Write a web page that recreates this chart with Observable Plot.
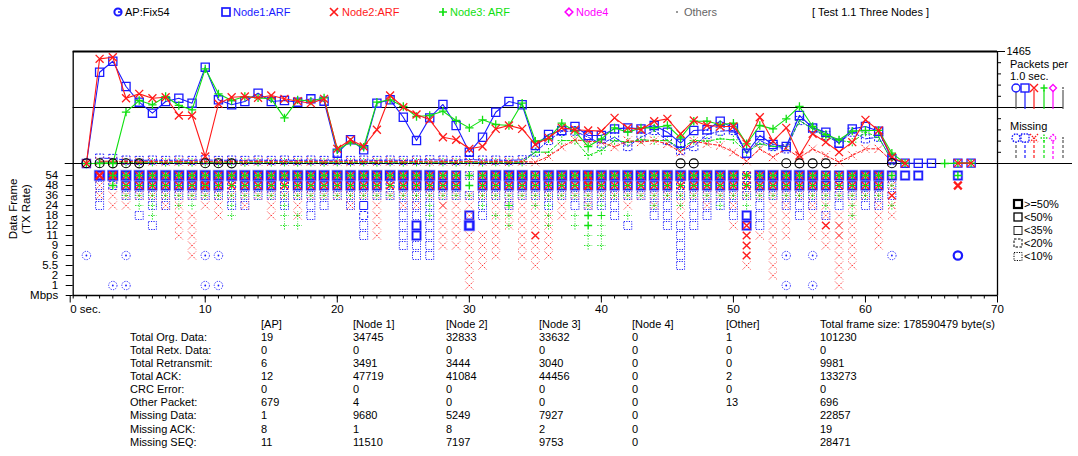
<!DOCTYPE html>
<html><head><meta charset="utf-8">
<script src="https://cdn.jsdelivr.net/npm/d3@7"></script>
<script src="https://cdn.jsdelivr.net/npm/@observablehq/plot@0.6"></script>
<style>
html,body{margin:0;padding:0;background:#fff;}
#root{position:relative;width:1078px;height:456px;overflow:hidden;font-family:"Liberation Sans",Arial,Helvetica,sans-serif;font-size:11px;color:#000;}
.t{position:absolute;white-space:nowrap;line-height:13px;font-size:11px;}
</style></head><body><div id="root"></div>
<script>
// ---------------- DATA ----------------
// packets per 1.0 sec, seconds 1..68 (null = no point)
const node1Packets = [0,1194,1338,1007,802,658,811,854,789,1260, 833,768,811,920,811,824,802,846,815,135, 310,179,789,833,605,300,597,772,497,148, 344,671,811,768,235,379,432,484,366,366, 453,466,453,497,410,266,432,441,553,466, 135,366,248,222,628,466,410,266,453,484, 423,61,4,3,3,null,5,5];
const node2Packets = [0,1369,1390,854,911,854,867,628,628,92, 781,867,876,859,889,846,815,789,846,192, 310,222,441,889,737,641,571,344,310,192, 222,453,497,453,248,336,466,441,432,423, 597,466,441,553,584,388,563,497,484,484, 258,605,292,466,105,388,279,148,279,571, 432,83,4,null,null,null,5,5];
const node3Packets = [0,0,0,671,824,768,876,759,702,1238, 911,824,876,859,846,597,833,815,859,179, 279,213,802,833,746,615,628,684,563,466, 571,510,497,789,292,323,527,423,222,323, 466,410,466,466,497,336,553,553,510,527, 258,497,453,584,746,484,379,310,423,432, 432,135,4,null,null,0,5,5];
// missing per 1.0 sec, seconds 1..68
const node1Missing = [null,70,66, 44,40,44,40,44,40,48,40, 44,40,44,40,44,40,44,40,44,40, 44,40,44,40,44,48,44,40,52,44, 44,40,48, 148,301,420,423,344,257,344,222,344,432, 301,170,222,379,423,432,126,301,222,192, 562,453,366,266,410,323,344,39, null,null,null,null,null,null];
const node2Missing = [null,30,30, 26,22,26,22,26,22,26,22, 26,22,26,22,26,22,26,22,26,22, 26,22,26,22,26,22,26,22,26,22, 26,22,26, 17,92,214,310,290,280,214,300,280,300, 257,148,292,260,235,148,30,192,83,200, 74,192,105,17,105,192,192,30, null,null,null,null,null,null];
const node3Missing = [null,17,17, 17,14,17,14,17,14,17,14, 17,14,17,14,17,14,17,14,17,14, 17,14,17,14,17,14,17,14,17,14, 17,14,17, 148,148,300,300,105,170,300,280,310,300, 300,200,301,292,322,310,148,257,222,222, 562,453,344,301,279,410,344,39, null,null,null,null,null,null];
const apSeconds = [1,2,3,4,5,10,11,12,46,47,54,55,56,57,62];
const apPackets = [3,3,2,3,2,3,3,2,2,2,3,2,2,2,3];

const upperTop = 1465;
const upperTicks = [0,146.5,293,439.5,586,732.5,879,1025.5,1172,1318.5,1465];
const midValue = 732.5;

// TX rate rows; each string = seconds 0..68 in chunks of 10
// 5: >=50%, 4: <50%, 3: <35%, 2: <20%, 1: <10%, "." none, "-" empty chunk
const rates = ["54","48","36","24","18","12","11","9","6","5.5","2","1"];
const rateAxis = [...rates, "Mbps"];
const node1Rows = [
 "..55555555 5555555555 5555555544 1455545555 5555555555 5255555445 55444..4.",
 "..12444444 4424442444 4444244444 .444444444 4444442444 4244444434 441......",
 "..1.111111 1111111111 1111111111 1111111111 1111111111 1111111111 111......",
 "..1...11.. ..11..1.11 .13..111.. .1.1..1.11 11..11.111 1.1.111.1. 11.......",
 ".....1.... ........1. ..2..111.. 41........ .1..11.11. 141..1.1.. -",
 "......1... - ..1..141.. 5......... ..1..111.. .41....... -",
 "- - ..1..141.. - ......1... - -",
 "- - .....111.. - ......1... - -",
 "- - ......11.. - ......1... - -",
 "- - - - ......1... - -",
 "-",
 "-"
];
const node2Rows = [
 "..55444444 4444444444 4444444444 1444444445 4444444444 4444444444 441......",
 "..11444444 5444444444 4444444444 .444444445 4444444444 4444444444 442....5.",
 "..11111111 1111111111 1111111111 1111111111 1111111111 1111111111 114......",
 "...11..11. 11.1.1.1.. .1.1.11.31 1.1111.1.1 ..1.1.1.1. 1..11.11.1 .12......",
 "........11 .1...1.1.. ...1....11 1.111111.. ......1... ...11.1111 .11......",
 "........11 - ...1....11 ..11111... - 14.11.1431 .1.......",
 "........11 - ...1....11 111.141... - .4111.1131 .1.......",
 ".........1 - ........11 111.111... - .4.1...111 .1.......",
 ".........1 - - 111.111... - .4.1....11 -",
 "- - - 11...1.... - .1.1....11 -",
 "- - - 1......... - ...1....1. -",
 "- - - 1......... - ........1. -"
];
const node3Rows = [
 "...4444444 4444444444 4444444444 4444444444 4444444444 4444444444 444....4.",
 "...4333333 3333333333 3333333333 4333333333 3333333333 3333333333 331......",
 "....111111 1111111111 1111111111 1111111111 1111111111 1111111111 11.......",
 ".....11.11 ..1...1... .......1.. .1.3.11..1 1...1.1..1 .1.....1.1 ..1......",
 "......1... ..1...11.. .......1.. ..11..1.14 3.1....... .........1 -",
 "- ......11.. - ...1..1.14 1......... - -",
 "- - - .........1 1......... - -",
 "- - - .........1 1......... - -",
 "-","-","-","-"
];
const apRows = [
 "-","-","-","-","-","-","-","-",
 ".1..1..... 11........ - - - ....1.1... ..1....5.",
 "-","-",
 "...11..... 11........ - - - ....1.1... -"
];
const secondTicks = d3.range(0, 71);
const tickLabels = [10,20,30,40,50,60,70];

const tableColumns = ["[AP]","[Node 1]","[Node 2]","[Node 3]","[Node 4]","[Other]","Total frame size: 178590479 byte(s)"];
const tableRowLabels = ["Total Org. Data:","Total Retx. Data:","Total Retransmit:","Total ACK:","CRC Error:","Other Packet:","Missing Data:","Missing ACK:","Missing SEQ:"];
const statAP = [19,0,6,12,0,679,1,8,11];
const statNode1 = [34745,0,3491,47719,0,4,9680,1,11510];
const statNode2 = [32833,0,3444,41084,0,0,5249,8,7197];
const statNode3 = [33632,0,3040,44456,0,0,7927,2,9753];
const statNode4 = [0,0,0,0,0,0,0,0,0];
const statOther = [1,0,0,2,0,13,null,null,null];
const statTotal = [101230,0,9981,133273,0,696,22857,19,28471];

const legendItems = ["AP:Fix54","Node1:ARF","Node2:ARF","Node3: ARF","Node4","Others"];
const chartTitle = "[ Test 1.1 Three Nodes ]";
const shareLabels = [">=50%","<50%","<35%","<20%","<10%"];

// ---------------- STYLE ----------------
const FONT = '"Liberation Sans", Arial, Helvetica, sans-serif';
const C = {n1:"#1a1aff", n2:"#ff1a1a", n3:"#10e010", n4:"#ff00ff", oth:"#777777", ap:"#000000"};
const SYM_R = {square: 4.6, times: 3.7, plus: 2.8, circle: 4.5};
const root = document.getElementById("root");

function addText(txt, left, cy, color) {
  const d = document.createElement("div");
  d.className = "t";
  d.textContent = txt;
  d.style.left = left + "px";
  d.style.top = (cy - 6.5) + "px";
  if (color) d.style.color = color;
  root.appendChild(d);
  return d;
}
function addSvg(markup, left, top, w, h) {
  const d = document.createElement("div");
  d.style.position = "absolute"; d.style.left = left + "px"; d.style.top = top + "px";
  d.style.width = w + "px"; d.style.height = h + "px";
  d.innerHTML = `<svg width="${w}" height="${h}" viewBox="0 0 ${w} ${h}" style="overflow:visible">${markup}</svg>`;
  root.appendChild(d);
}
function place(svg, top) {
  svg.style.position = "absolute"; svg.style.left = "0px"; svg.style.top = top + "px";
  svg.style.overflow = "visible";
  root.appendChild(svg);
}

// ---------------- TOP LEGEND ----------------
const icon = {
  ap: `<circle cx="6" cy="6" r="3.6" fill="none" stroke="${C.n1}" stroke-width="2"/><line x1="6" y1="6" x2="9.8" y2="6" stroke="${C.n1}" stroke-width="1.6"/>`,
  sq: `<rect x="2" y="2" width="8" height="8" fill="none" stroke="${C.n1}" stroke-width="1.7"/>`,
  x: `<path d="M2,2L10,10M10,2L2,10" stroke="${C.n2}" stroke-width="1.7"/>`,
  p: `<path d="M6,2V10M2,6H10" stroke="${C.n3}" stroke-width="1.7"/>`,
  d: `<path d="M6,2.2L9.8,6L6,9.8L2.2,6Z" fill="none" stroke="${C.n4}" stroke-width="1.6"/>`,
  o: `<circle cx="6" cy="6" r="1" fill="${C.oth}"/>`
};
const legendPos = [[118,125,icon.ap,"#000"],[226,233,icon.sq,C.n1],[334,342,icon.x,C.n2],[443,450,icon.p,C.n3],[569,576,icon.d,C.n4],[677,684,icon.o,"#666"]];
legendItems.forEach((name, i) => {
  const [ix, tx, mk, col] = legendPos[i];
  addSvg(mk, ix - 6, 6, 12, 12);
  addText(name, tx, 12, col);
});
addText(chartTitle, 812, 12, "#000");

// ---------------- UPPER PANEL ----------------
const toPts = arr => arr.map((v, i) => ({sec: i + 1, v}));
const series = [
  {vals: node1Packets, miss: node1Missing, color: C.n1, symbol: "square"},
  {vals: node3Packets, miss: node3Missing, color: C.n3, symbol: "plus"},
  {vals: node2Packets, miss: node2Missing, color: C.n2, symbol: "times"}
];
const upperMarks = [
  Plot.ruleY([0], {stroke: "#000", strokeWidth: 1.2, insetLeft: -8, insetRight: -75}),
  Plot.ruleY([midValue], {stroke: "#000", strokeWidth: 1.2, insetRight: -66}),
  Plot.ruleY([upperTop], {stroke: "#000", strokeWidth: 1.8}),
  Plot.ruleX([0], {stroke: "#000", strokeWidth: 1.3}),
  Plot.ruleX([70], {stroke: "#000", strokeWidth: 1.3}),
  Plot.axisY({anchor: "right", ticks: upperTicks, tickSize: 3, tickFormat: () => "", label: null}),
  Plot.axisY({anchor: "right", ticks: [upperTop], tickSize: 7, tickPadding: 2, tickFormat: d => String(d), label: null, fontSize: 11})
];
series.forEach(s => {
  const pts = toPts(s.miss);
  upperMarks.push(Plot.line(pts, {x: "sec", y: "v", stroke: s.color, strokeWidth: 1, strokeDasharray: "3,2"}));
  upperMarks.push(Plot.dot(pts.filter(d => d.v != null), {x: "sec", y: "v", symbol: s.symbol, r: SYM_R[s.symbol], stroke: s.color, strokeWidth: 1, strokeDasharray: "2,1.5", fill: "none"}));
});
series.forEach(s => {
  const pts = toPts(s.vals);
  upperMarks.push(Plot.line(pts, {x: "sec", y: "v", stroke: s.color, strokeWidth: 1.1}));
  upperMarks.push(Plot.dot(pts.filter(d => d.v != null), {x: "sec", y: "v", symbol: s.symbol, r: SYM_R[s.symbol], stroke: s.color, strokeWidth: 1.3, fill: "none"}));
});
upperMarks.push(Plot.dot(apSeconds.map((s, i) => ({sec: s, v: apPackets[i]})), {x: "sec", y: "v", symbol: "circle", r: SYM_R.circle, stroke: C.ap, strokeWidth: 1.1, fill: "none"}));

const upper = Plot.plot({
  width: 1078, height: 130,
  marginTop: 11, marginBottom: 7, marginLeft: 72.7, marginRight: 81,
  x: {domain: [0, 70], axis: null},
  y: {domain: [0, upperTop], axis: null},
  style: {fontFamily: FONT, fontSize: "11px", color: "#000", background: "transparent", overflow: "visible"},
  marks: upperMarks
});
place(upper, 40);

// right-side legend of upper panel
addText("Packets per", 1010, 64, "#000");
addText("1.0 sec.", 1010, 76, "#000");
addText("Missing", 1010, 126, "#000");
function stemIcons(dash) {
  const da = dash ? ` stroke-dasharray="3,2"` : "";
  const da2 = dash ? ` stroke-dasharray="1.5,1.2"` : "";
  return `
  <line x1="8" y1="8" x2="8" y2="27" stroke="#555" stroke-width="1.2"${da}/>
  <circle cx="8" cy="6" r="4" fill="#fff" stroke="${C.n1}" stroke-width="1.4"${da2}/>
  <line x1="17" y1="8" x2="17" y2="27" stroke="${C.n1}" stroke-width="1.2"${da}/>
  <rect x="13" y="2" width="8" height="8" fill="#fff" stroke="${C.n1}" stroke-width="1.4"${da2}/>
  <line x1="26" y1="8" x2="26" y2="27" stroke="${C.n2}" stroke-width="1.2"${da}/>
  <path d="M22,2L30,10M30,2L22,10" stroke="${C.n2}" stroke-width="1.4"${da2}/>
  <line x1="36" y1="8" x2="36" y2="27" stroke="${C.n3}" stroke-width="1.2"${da}/>
  <path d="M36,2.5V9.5M32.5,6H39.5" stroke="${C.n3}" stroke-width="1.4"${da2}/>
  <line x1="45" y1="9" x2="45" y2="27" stroke="${C.n4}" stroke-width="1.2"${da}/>
  <path d="M45,2.5L48.5,6L45,9.5L41.5,6Z" fill="#fff" stroke="${C.n4}" stroke-width="1.3"${da2}/>
  <line x1="55" y1="8" x2="55" y2="27" stroke="#555" stroke-width="1.2"${da}/>
  <circle cx="55" cy="6" r="0.9" fill="#555"/>`;
}
addSvg(stemIcons(false), 1008, 82, 62, 28);
addSvg(stemIcons(true), 1008, 132, 62, 28);

// ---------------- LOWER PANEL ----------------
function expand(rows) {
  const out = [];
  rows.forEach((row, r) => {
    row.split(" ").forEach((chunk, c) => {
      const s = chunk === "-" ? "" : chunk;
      for (let i = 0; i < s.length && i < 10; i++) {
        if (s[i] !== ".") out.push({sec: c * 10 + i, rate: rates[r], cat: +s[i]});
      }
    });
  });
  return out;
}
const catStyle = {
  5: {w: 2.2, dash: null},
  4: {w: 1.4, dash: null},
  3: {w: 1.0, dash: null},
  2: {w: 1.0, dash: "2.5,1.5"},
  1: {w: 1.0, dash: "1.2,1.3"}
};
const nodeDefs = [
  {cells: expand(node1Rows), symbol: "square", color: C.n1, r: 4.5, halo: true},
  {cells: expand(node2Rows), symbol: "times", color: C.n2, r: 3.6},
  {cells: expand(node3Rows), symbol: "plus", color: C.n3, r: 2.7},
  {cells: expand(apRows), symbol: "circle", color: C.n1, r: 4.2, center: true}
];
const lowerMarks = [
  Plot.ruleX([0], {stroke: "#000", strokeWidth: 1.3, insetTop: -11}),
  Plot.ruleX([70], {stroke: "#000", strokeWidth: 1.3, insetTop: -11}),
  Plot.ruleY(["Mbps"], {stroke: "#000", strokeWidth: 1.6}),
  Plot.axisY({anchor: "left", tickSize: 7, tickPadding: 8, fontSize: 11.5, label: null}),
  Plot.axisX({ticks: secondTicks, tickSize: 3, tickFormat: () => "", label: null}),
  Plot.axisX({ticks: tickLabels, tickSize: 7, tickPadding: 2, fontSize: 11.5, label: null}),
  Plot.axisX({ticks: [0], tickSize: 7, tickPadding: 2, fontSize: 11.5, tickFormat: () => "0 sec.", textAnchor: "start", dx: -3, label: null})
];
nodeDefs.forEach(n => {
  [1, 2, 3, 4, 5].forEach(c => {
    const data = n.cells.filter(d => d.cat === c);
    if (!data.length) return;
    const st = catStyle[c];
    if (n.halo && c >= 4) {
      lowerMarks.push(Plot.dot(data, {x: "sec", y: "rate", symbol: n.symbol, r: n.r, stroke: "#a8a8ff", strokeWidth: c === 5 ? 3.6 : 2.6, fill: "none"}));
    }
    const opts = {x: "sec", y: "rate", symbol: n.symbol, r: n.r, stroke: n.color, strokeWidth: st.w, fill: "none"};
    if (st.dash) opts.strokeDasharray = st.dash;
    lowerMarks.push(Plot.dot(data, opts));
    if (n.center && c <= 2) {
      lowerMarks.push(Plot.dot(data, {x: "sec", y: "rate", r: 0.9, fill: n.color, stroke: "none"}));
    }
  });
});
const lower = Plot.plot({
  width: 1078, height: 160,
  marginTop: 11, marginBottom: 27.5, marginLeft: 72.7, marginRight: 81,
  x: {domain: [0, 70]},
  y: {type: "point", domain: rateAxis, padding: 0},
  style: {fontFamily: FONT, fontSize: "11px", color: "#000", background: "transparent", overflow: "visible"},
  marks: lowerMarks
});
place(lower, 163);

// rotated axis title
const ylab = document.createElement("div");
ylab.innerHTML = "Data Frame<br>(TX Rate)";
Object.assign(ylab.style, {position: "absolute", left: "-20px", top: "196px", width: "80px", height: "26px",
  lineHeight: "13px", fontSize: "11.5px", textAlign: "center", transform: "rotate(-90deg)", whiteSpace: "nowrap"});
root.appendChild(ylab);

// share legend
const shareMarkup = [
  `<rect x="3" y="4" width="8" height="8" fill="none" stroke="#000" stroke-width="2.2"/>`,
  `<rect x="3" y="17" width="8" height="8" fill="none" stroke="#000" stroke-width="1.3"/>`,
  `<rect x="3" y="30.5" width="8" height="8" fill="none" stroke="#222" stroke-width="1"/>`,
  `<rect x="3" y="43" width="8" height="8" fill="none" stroke="#000" stroke-width="1" stroke-dasharray="2.5,1.5"/>`,
  `<rect x="3" y="56.5" width="8" height="8" fill="none" stroke="#000" stroke-width="1" stroke-dasharray="1.2,1.3"/>`
].join("");
addSvg(shareMarkup, 1011, 196, 16, 68);
const shareY = [204, 217.5, 230.5, 243, 256.5];
shareLabels.forEach((t, i) => addText(t, 1024, shareY[i], "#000"));

// ---------------- TABLE ----------------
const colX = [261, 353, 446, 539, 632, 726, 820];
const statCols = [statAP, statNode1, statNode2, statNode3, statNode4, statOther, statTotal];
tableColumns.forEach((h, j) => addText(h, colX[j], 324, "#000"));
tableRowLabels.forEach((lab, i) => {
  const cy = 337.3 + i * 13.1;
  addText(lab, 130, cy, "#000");
  statCols.forEach((col, j) => { if (col[i] != null) addText(String(col[i]), colX[j], cy, "#000"); });
});
</script></body></html>
